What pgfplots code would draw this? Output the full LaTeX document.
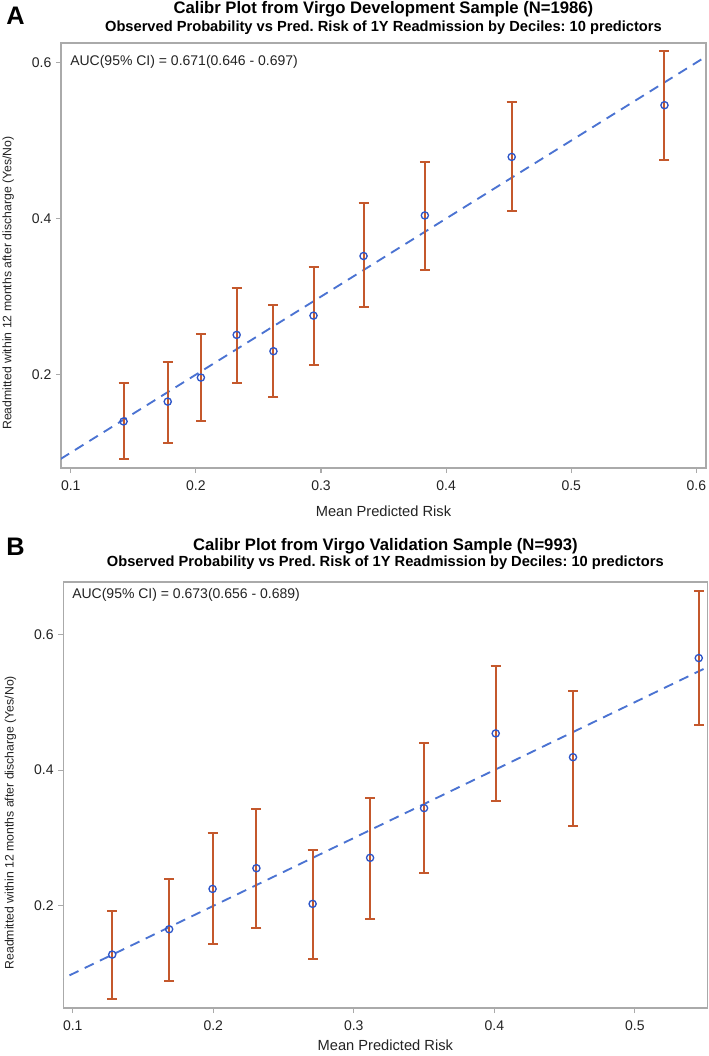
\documentclass[border=0pt]{standalone}
\usepackage{fontspec}
\setmainfont{Liberation Sans}
\usepackage{pgfplots}
\pgfplotsset{compat=1.18}
\usepackage{pgfplotstable}
\definecolor{errc}{RGB}{196,88,44}
\definecolor{mkc}{RGB}{45,85,200}
\definecolor{dashc}{RGB}{75,115,210}
\definecolor{framec}{RGB}{170,170,170}
\definecolor{txtc}{RGB}{35,35,35}
\frenchspacing

\pgfplotstableread{
x y lo hi
0.1422 0.1400 0.0919 0.1890
0.1775 0.1654 0.1124 0.2167
0.2040 0.1962 0.1406 0.2520
0.2326 0.2509 0.1890 0.3110
0.2620 0.2300 0.1714 0.2890
0.2940 0.2756 0.2128 0.3376
0.3340 0.3520 0.2863 0.4200
0.3830 0.4040 0.3346 0.4720
0.4524 0.4790 0.4100 0.5500
0.5745 0.5453 0.4748 0.6150
}\devdata

\pgfplotstableread{
x y lo hi
0.1281 0.1283 0.0629 0.1926
0.1686 0.1656 0.0894 0.2403
0.1995 0.2250 0.1440 0.3080
0.2307 0.2555 0.1676 0.3420
0.2707 0.2030 0.1219 0.2826
0.3116 0.2708 0.1808 0.3587
0.3500 0.3440 0.2487 0.4394
0.4010 0.4540 0.3538 0.5533
0.4560 0.4190 0.3180 0.5160
0.5455 0.5650 0.4660 0.6640
}\valdata

\pgfplotsset{
  calib/.style={
    scale only axis,
    axis line style={framec, line width=1pt},
    tick style={framec, line width=0.8pt},
    tick align=outside,
    major tick length=3.75pt,
    xtick pos=bottom, ytick pos=left,
    ytick={0.2,0.4,0.6},
    /pgf/number format/assume math mode=true,
    /pgf/number format/fixed,
    /pgf/number format/precision=1,
    ticklabel style={font=\fontsize{10.5}{12}\selectfont, text=txtc},
    xticklabel style={yshift=-2.5pt},
    xlabel={Mean Predicted Risk},
    ylabel={Readmitted within 12 months after discharge (Yes/No)},
    xlabel style={font=\fontsize{11}{13}\selectfont, text=txtc, at={(rel axis cs:0.5,0)}, anchor=center, yshift=-32.5pt},
    ylabel style={font=\fontsize{9.2}{11}\selectfont, text=txtc, at={(rel axis cs:-0.082,0.435)}, anchor=center, rotate=0},
  },
  errplot/.style={
    draw=none, mark=none,
    error bars/.cd, y dir=both, y explicit,
    error bar style={errc, line width=1.5pt},
    error mark options={errc, line width=1.5pt, mark size=3.75pt, rotate=90},
  },
  mkplot/.style={
    only marks, mark=o, mark size=2.7pt,
    mark options={mkc, line width=1pt},
  },
  idline/.style={dashc, line width=1.4pt, dash pattern=on 7.5pt off 5.2pt},
}

\begin{document}
\begin{tikzpicture}
\path[use as bounding box] (0,0) rectangle (531.75pt,-792pt);

% ---------- Panel A ----------
\node[anchor=base west, inner sep=0pt, font=\fontsize{19}{19}\selectfont\bfseries] at (4.5pt,-18.75pt) {A};
\node[anchor=base, inner sep=0pt, font=\fontsize{12.5}{14}\selectfont\bfseries] at (287.6pt,-10.5pt) {Calibr Plot from Virgo Development Sample (N=1986)};
\node[anchor=base, inner sep=0pt, font=\fontsize{11}{13}\selectfont\bfseries] at (287.6pt,-23.8pt) {Observed Probability vs Pred. Risk of 1Y Readmission by Deciles: 10 predictors};

\begin{axis}[calib,
  at={(45.75pt,-32.25pt)}, anchor=north west,
  width=483.75pt, height=318.75pt,
  xmin=0.0922, xmax=0.6077, ymin=0.0803, ymax=0.625,
  xtick={0.1,0.2,0.3,0.4,0.5,0.6},
]
\addplot[idline] coordinates {(0,0) (1,1)};
\addplot[errplot] table[x=x, y=y,
  y error plus expr=\thisrow{hi}-\thisrow{y},
  y error minus expr=\thisrow{y}-\thisrow{lo}] {\devdata};
\addplot[mkplot] table[x=x, y=y] {\devdata};
\end{axis}
\node[anchor=west, inner sep=0pt, font=\fontsize{10.5}{12}\selectfont, text=txtc] at (52.5pt,-46.5pt) {AUC(95\% CI) = 0.671(0.646 - 0.697)};

% ---------- Panel B ----------
\node[anchor=base west, inner sep=0pt, font=\fontsize{19}{19}\selectfont\bfseries] at (4.5pt,-416.25pt) {B};
\node[anchor=base, inner sep=0pt, font=\fontsize{12.5}{14}\selectfont\bfseries] at (289pt,-413pt) {Calibr Plot from Virgo Validation Sample (N=993)};
\node[anchor=base, inner sep=0pt, font=\fontsize{11}{13}\selectfont\bfseries] at (289pt,-425pt) {Observed Probability vs Pred. Risk of 1Y Readmission by Deciles: 10 predictors};

\begin{axis}[calib,
  at={(47.5pt,-436.5pt)}, anchor=north west,
  width=483pt, height=319.5pt,
  xmin=0.0933, xmax=0.5516, ymin=0.0496, ymax=0.677,
  xtick={0.1,0.2,0.3,0.4,0.5},
  xlabel style={yshift=4.5pt},
]
\addplot[idline] coordinates {(0,0) (1,1)};
\addplot[errplot] table[x=x, y=y,
  y error plus expr=\thisrow{hi}-\thisrow{y},
  y error minus expr=\thisrow{y}-\thisrow{lo}] {\valdata};
\addplot[mkplot] table[x=x, y=y] {\valdata};
\end{axis}
\node[anchor=west, inner sep=0pt, font=\fontsize{10.5}{12}\selectfont, text=txtc] at (54pt,-446.25pt) {AUC(95\% CI) = 0.673(0.656 - 0.689)};
\end{tikzpicture}
\end{document}
